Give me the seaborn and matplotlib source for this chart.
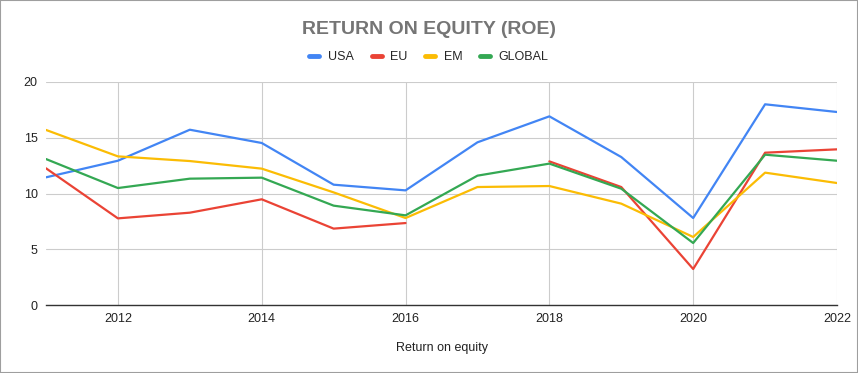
import numpy as np
import pandas as pd
import matplotlib
matplotlib.use("Agg")
import matplotlib.pyplot as plt
import seaborn as sns

years = [2011, 2012, 2013, 2014, 2015, 2016, 2017, 2018, 2019, 2020, 2021, 2022]
usa = [11.45, 12.94, 15.72, 14.53, 10.79, 10.28, 14.59, 16.92, 13.27, 7.80, 18.00, 17.31]
eu = [12.26, 7.77, 8.28, 9.48, 6.85, 7.35, np.nan, 12.88, 10.58, 3.23, 13.66, 13.96]
em = [15.70, 13.33, 12.91, 12.23, 10.10, 7.80, 10.58, 10.67, 9.09, 6.10, 11.87, 10.94]
glob = [13.09, 10.49, 11.33, 11.42, 8.91, 8.04, 11.60, 12.68, 10.43, 5.56, 13.48, 12.94]

series = {"USA": usa, "EU": eu, "EM": em, "GLOBAL": glob}
colors = {"USA": "#4285f4", "EU": "#ea4335", "EM": "#fbbc04", "GLOBAL": "#34a853"}

sns.set_style("white")
plt.rcParams["font.family"] = ["Liberation Sans", "DejaVu Sans"]

fig = plt.figure(figsize=(8.58, 3.73), dpi=100)
ax = fig.add_axes([46 / 858, 1 - 305 / 373, (837 - 46) / 858, (305 - 82) / 373])

for name, vals in series.items():
    df = pd.DataFrame({"year": years, "roe": vals})
    # split at gaps so missing years stay broken
    df["seg"] = df["roe"].isna().cumsum()
    df = df.dropna()
    for _, part in df.groupby("seg"):
        sns.lineplot(data=part, x="year", y="roe", color=colors[name], linewidth=1.6, ax=ax)

ax.set_xlim(2011, 2022)
ax.set_ylim(0, 20)
ax.set_xticks(range(2012, 2023, 2))
ax.set_yticks(range(0, 21, 5))
ax.grid(True, color="#cccccc", linewidth=0.8)
ax.set_axisbelow(True)
for s in ["top", "right", "left"]:
    ax.spines[s].set_visible(False)
ax.spines["bottom"].set_color("#333333")
ax.spines["bottom"].set_linewidth(1.0)
ax.tick_params(axis="both", length=0, labelsize=9, colors="#222222", pad=6)
ax.set_xlabel("Return on equity", fontsize=9, color="#222222", labelpad=12)
ax.set_ylabel("")

fig.text(0.5, 1 - 30 / 373, "RETURN ON EQUITY (ROE)", ha="center", va="center",
         fontsize=14, fontweight="bold", color="#757575")

handles = [plt.Line2D([0], [0], color=colors[n], linewidth=3.5) for n in series]
fig.legend(handles, list(series), loc="center", bbox_to_anchor=(0.5, 1 - 57 / 373),
           ncol=4, frameon=False, fontsize=9, handlelength=0.8, columnspacing=1.4,
           handletextpad=0.7)

fig.patches.append(plt.Rectangle((0, 0), 1, 1, transform=fig.transFigure, fill=False,
                                 edgecolor="#9e9e9e", linewidth=1.5))

fig.savefig("out.png", dpi=100)
